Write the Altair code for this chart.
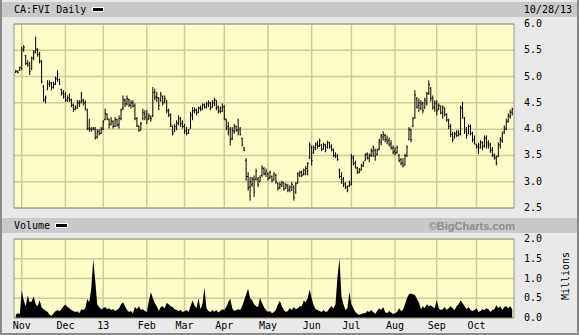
import altair as alt
import pandas as pd

# ---------------- data (trading-day index, Oct 29 2012 = -3, Nov 1 2012 = 0) ----------------
first_index = -3

highs = [
    5.13, 5.12, 5.19, 5.57, 5.60, 5.41, 5.31, 5.28, 5.38, 5.50,
    5.76, 5.54, 5.47, 5.31, 4.84, 4.64, 4.93, 4.93, 4.90, 4.90,
    5.00, 5.12, 4.96, 4.77, 4.74, 4.71, 4.64, 4.68, 4.58, 4.49,
    4.45, 4.55, 4.55, 4.71, 4.58, 4.55, 4.39, 4.20, 4.04, 4.04,
    4.04, 4.00, 4.00, 4.04, 4.17, 4.39, 4.30, 4.20, 4.23, 4.17,
    4.23, 4.20, 4.26, 4.39, 4.64, 4.58, 4.64, 4.58, 4.55, 4.55,
    4.49, 4.23, 4.07, 4.14, 4.39, 4.36, 4.36, 4.30, 4.26, 4.80,
    4.77, 4.71, 4.61, 4.71, 4.64, 4.64, 4.55, 4.39, 4.30, 4.07,
    4.10, 4.17, 4.26, 4.23, 4.17, 4.10, 4.04, 4.00, 4.33, 4.42,
    4.41, 4.39, 4.43, 4.45, 4.49, 4.49, 4.52, 4.55, 4.52, 4.55,
    4.60, 4.55, 4.45, 4.43, 4.49, 4.45, 4.20, 4.14, 4.04, 4.04,
    4.10, 4.07, 4.20, 4.04, 3.84, 3.66, 3.45, 3.18, 3.09, 3.09,
    3.12, 3.25, 3.09, 3.12, 3.31, 3.28, 3.25, 3.18, 3.21, 3.12,
    3.18, 3.15, 2.99, 2.99, 3.02, 2.99, 2.97, 2.96, 2.93, 2.99,
    2.93, 2.99, 3.18, 3.21, 3.21, 3.25, 3.30, 3.37, 3.75, 3.69,
    3.69, 3.75, 3.78, 3.82, 3.72, 3.74, 3.72, 3.78, 3.75, 3.71,
    3.63, 3.56, 3.53, 3.25, 3.18, 3.09, 2.99, 2.93, 3.02, 3.53,
    3.50, 3.40, 3.28, 3.26, 3.34, 3.39, 3.54, 3.56, 3.54, 3.63,
    3.69, 3.63, 3.63, 3.82, 3.91, 3.96, 3.91, 3.88, 3.84, 3.79,
    3.69, 3.66, 3.69, 3.53, 3.45, 3.45, 3.53, 3.69, 4.04, 4.01,
    4.23, 4.74, 4.61, 4.58, 4.55, 4.52, 4.60, 4.71, 4.93, 4.80,
    4.64, 4.55, 4.55, 4.49, 4.45, 4.45, 4.41, 4.30, 4.20, 4.10,
    3.95, 3.95, 3.98, 3.98, 4.45, 4.52, 4.23, 4.04, 4.09, 4.09,
    3.95, 3.88, 3.72, 3.74, 3.79, 3.77, 3.88, 3.88, 3.79, 3.74,
    3.66, 3.54, 3.50, 3.75, 3.85, 3.95, 4.07, 4.20, 4.30, 4.37, 4.41,
]

lows = [
    5.07, 5.06, 5.11, 5.12, 5.47, 5.22, 5.19, 5.03, 5.12, 5.31,
    5.44, 5.38, 5.25, 4.87, 4.52, 4.49, 4.74, 4.80, 4.74, 4.77,
    4.84, 4.90, 4.84, 4.64, 4.58, 4.52, 4.52, 4.52, 4.42, 4.33,
    4.36, 4.39, 4.42, 4.49, 4.45, 4.36, 3.98, 3.95, 3.95, 3.98,
    3.80, 3.82, 3.88, 3.91, 3.98, 4.17, 4.17, 4.01, 4.07, 4.01,
    4.04, 4.04, 4.01, 4.17, 4.36, 4.42, 4.45, 4.42, 4.39, 4.41,
    4.17, 4.04, 3.95, 3.98, 4.17, 4.17, 4.10, 4.17, 4.14, 4.23,
    4.55, 4.52, 4.36, 4.52, 4.45, 4.49, 4.30, 4.23, 4.04, 3.88,
    3.95, 3.98, 4.07, 4.04, 4.01, 3.91, 3.88, 3.91, 4.01, 4.17,
    4.30, 4.26, 4.31, 4.34, 4.36, 4.39, 4.39, 4.42, 4.36, 4.41,
    4.44, 4.36, 4.30, 4.30, 4.33, 4.17, 3.98, 3.88, 3.69, 3.79,
    3.91, 3.95, 3.88, 3.88, 3.67, 3.58, 3.02, 2.83, 2.64, 2.90,
    2.71, 3.02, 2.90, 2.99, 3.09, 3.12, 3.09, 3.02, 3.05, 2.99,
    3.02, 2.96, 2.83, 2.86, 2.90, 2.83, 2.86, 2.80, 2.80, 2.83,
    2.64, 2.77, 2.96, 3.09, 3.09, 3.12, 3.12, 3.12, 3.43, 3.31,
    3.53, 3.60, 3.63, 3.66, 3.58, 3.61, 3.56, 3.63, 3.63, 3.58,
    3.47, 3.45, 3.40, 3.06, 2.96, 2.90, 2.86, 2.80, 2.90, 2.93,
    3.31, 3.25, 3.15, 3.16, 3.21, 3.28, 3.40, 3.42, 3.37, 3.47,
    3.47, 3.40, 3.50, 3.60, 3.69, 3.78, 3.75, 3.71, 3.67, 3.61,
    3.52, 3.50, 3.53, 3.37, 3.31, 3.27, 3.31, 3.47, 3.79, 3.75,
    4.04, 4.20, 4.39, 4.33, 4.36, 4.30, 4.39, 4.45, 4.65, 4.52,
    4.37, 4.33, 4.26, 4.36, 4.28, 4.20, 4.24, 4.14, 4.00, 3.85,
    3.75, 3.82, 3.85, 3.86, 3.88, 4.20, 3.91, 3.82, 3.90, 3.88,
    3.75, 3.71, 3.63, 3.53, 3.63, 3.60, 3.65, 3.63, 3.63, 3.55,
    3.47, 3.42, 3.31, 3.47, 3.63, 3.74, 3.91, 3.98, 4.12, 4.20, 4.26,
]

opens = [
    5.08, 5.10, 5.12, 5.15, 5.50, 5.40, 5.25, 5.25, 5.15, 5.35,
    5.48, 5.50, 5.42, 5.28, 4.80, 4.55, 4.76, 4.85, 4.88, 4.80,
    4.86, 4.95, 4.94, 4.75, 4.70, 4.66, 4.55, 4.58, 4.56, 4.46,
    4.38, 4.40, 4.50, 4.52, 4.55, 4.50, 4.36, 4.02, 4.00, 4.00,
    4.00, 3.85, 3.95, 3.92, 4.00, 4.18, 4.28, 4.18, 4.10, 4.14,
    4.06, 4.18, 4.08, 4.20, 4.40, 4.55, 4.48, 4.56, 4.45, 4.50,
    4.45, 4.20, 4.05, 3.98, 4.20, 4.30, 4.25, 4.20, 4.22, 4.25,
    4.70, 4.62, 4.58, 4.55, 4.62, 4.52, 4.55, 4.35, 4.26, 4.05,
    3.95, 4.05, 4.10, 4.20, 4.12, 4.05, 3.98, 3.92, 4.02, 4.25,
    4.35, 4.36, 4.32, 4.40, 4.38, 4.46, 4.42, 4.48, 4.50, 4.42,
    4.50, 4.55, 4.42, 4.35, 4.34, 4.42, 4.18, 4.05, 4.00, 3.82,
    3.96, 4.05, 3.98, 4.00, 3.82, 3.64, 3.40, 3.10, 2.90, 2.95,
    3.05, 3.05, 3.05, 3.00, 3.12, 3.25, 3.15, 3.15, 3.08, 3.10,
    3.04, 3.12, 2.96, 2.88, 2.92, 2.98, 2.88, 2.92, 2.86, 2.84,
    2.90, 2.80, 2.98, 3.12, 3.18, 3.14, 3.15, 3.20, 3.45, 3.65,
    3.55, 3.62, 3.70, 3.68, 3.70, 3.62, 3.70, 3.65, 3.74, 3.68,
    3.60, 3.50, 3.50, 3.22, 3.10, 3.05, 2.96, 2.90, 2.92, 2.95,
    3.45, 3.35, 3.26, 3.18, 3.22, 3.30, 3.40, 3.52, 3.45, 3.50,
    3.58, 3.60, 3.52, 3.62, 3.75, 3.85, 3.88, 3.80, 3.78, 3.72,
    3.64, 3.58, 3.55, 3.50, 3.42, 3.35, 3.32, 3.50, 3.80, 3.98,
    4.06, 4.22, 4.58, 4.45, 4.40, 4.50, 4.40, 4.50, 4.68, 4.78,
    4.60, 4.40, 4.48, 4.38, 4.44, 4.30, 4.40, 4.28, 4.16, 4.05,
    3.90, 3.85, 3.90, 3.94, 3.90, 4.40, 4.20, 4.00, 3.92, 4.05,
    3.92, 3.80, 3.70, 3.68, 3.65, 3.75, 3.68, 3.82, 3.74, 3.70,
    3.60, 3.50, 3.45, 3.48, 3.70, 3.78, 3.95, 4.00, 4.15, 4.25, 4.32,
]

closes = [
    5.10, 5.08, 5.17, 5.52, 5.55, 5.25, 5.22, 5.10, 5.35, 5.45,
    5.52, 5.42, 5.30, 4.90, 4.56, 4.60, 4.88, 4.86, 4.80, 4.85,
    4.96, 5.05, 4.86, 4.68, 4.62, 4.56, 4.60, 4.55, 4.45, 4.38,
    4.42, 4.50, 4.48, 4.65, 4.50, 4.40, 4.02, 4.00, 3.98, 4.02,
    3.84, 3.95, 3.92, 4.00, 4.15, 4.30, 4.20, 4.08, 4.15, 4.05,
    4.18, 4.08, 4.20, 4.36, 4.56, 4.48, 4.58, 4.46, 4.50, 4.44,
    4.20, 4.06, 3.98, 4.10, 4.32, 4.22, 4.18, 4.25, 4.20, 4.70,
    4.60, 4.60, 4.45, 4.65, 4.50, 4.58, 4.35, 4.28, 4.08, 3.92,
    4.05, 4.12, 4.20, 4.10, 4.05, 3.95, 3.92, 3.98, 4.28, 4.35,
    4.36, 4.30, 4.40, 4.38, 4.46, 4.42, 4.48, 4.50, 4.40, 4.50,
    4.56, 4.40, 4.34, 4.40, 4.44, 4.20, 4.02, 3.95, 3.80, 3.98,
    4.05, 3.98, 3.95, 3.90, 3.70, 3.60, 3.10, 2.88, 3.00, 3.05,
    2.80, 3.20, 2.95, 3.08, 3.26, 3.15, 3.20, 3.05, 3.18, 3.02,
    3.15, 3.00, 2.88, 2.95, 2.98, 2.86, 2.94, 2.84, 2.90, 2.95,
    2.70, 2.96, 3.15, 3.18, 3.12, 3.22, 3.25, 3.35, 3.70, 3.40,
    3.65, 3.72, 3.68, 3.78, 3.62, 3.70, 3.60, 3.75, 3.66, 3.62,
    3.50, 3.48, 3.42, 3.10, 3.00, 2.94, 2.90, 2.84, 2.98, 3.48,
    3.35, 3.28, 3.18, 3.24, 3.32, 3.36, 3.52, 3.45, 3.50, 3.60,
    3.65, 3.48, 3.60, 3.78, 3.88, 3.90, 3.80, 3.76, 3.70, 3.65,
    3.56, 3.55, 3.65, 3.40, 3.35, 3.30, 3.50, 3.66, 4.00, 3.80,
    4.20, 4.65, 4.42, 4.50, 4.48, 4.35, 4.55, 4.68, 4.85, 4.58,
    4.42, 4.50, 4.35, 4.45, 4.32, 4.42, 4.28, 4.18, 4.05, 3.90,
    3.80, 3.92, 3.88, 3.92, 4.40, 4.25, 3.95, 3.88, 4.05, 3.92,
    3.80, 3.74, 3.66, 3.70, 3.74, 3.66, 3.84, 3.70, 3.72, 3.60,
    3.50, 3.46, 3.36, 3.70, 3.80, 3.92, 4.02, 4.15, 4.25, 4.32, 4.38,
]

volumes = [  # millions of shares
    0.08, 0.12, 0.10, 0.70, 0.45, 0.30, 0.57, 0.40, 0.42, 0.55,
    0.35, 0.30, 0.45, 0.27, 0.22, 0.19, 0.15, 0.08, 0.06, 0.12,
    0.17, 0.20, 0.17, 0.22, 0.30, 0.34, 0.28, 0.25, 0.20, 0.18,
    0.15, 0.17, 0.12, 0.22, 0.20, 0.25, 0.48, 0.40, 0.75, 1.49,
    0.95, 0.35, 0.27, 0.22, 0.25, 0.28, 0.22, 0.25, 0.20, 0.23,
    0.18, 0.20, 0.25, 0.35, 0.40, 0.30, 0.20, 0.15, 0.18, 0.12,
    0.28, 0.22, 0.30, 0.20, 0.22, 0.18, 0.15, 0.42, 0.66, 0.50,
    0.38, 0.30, 0.18, 0.28, 0.30, 0.25, 0.38, 0.35, 0.30, 0.28,
    0.22, 0.20, 0.18, 0.20, 0.15, 0.17, 0.20, 0.15, 0.30, 0.44,
    0.32, 0.25, 0.50, 0.22, 0.35, 0.77, 0.25, 0.18, 0.15, 0.20,
    0.16, 0.20, 0.14, 0.18, 0.22, 0.20, 0.28, 0.40, 0.49, 0.25,
    0.18, 0.20, 0.22, 0.20, 0.30, 0.45, 0.60, 0.74, 0.50, 0.45,
    0.35, 0.30, 0.28, 0.51, 0.38, 0.27, 0.20, 0.15, 0.18, 0.12,
    0.15, 0.20, 0.35, 0.43, 0.30, 0.20, 0.15, 0.18, 0.25, 0.20,
    0.28, 0.22, 0.25, 0.30, 0.30, 0.44, 0.40, 0.50, 0.72, 0.50,
    0.32, 0.22, 0.20, 0.18, 0.15, 0.20, 0.15, 0.17, 0.25, 0.30,
    0.25, 0.35, 1.04, 1.51, 0.55, 0.35, 0.20, 0.25, 0.66, 0.35,
    0.25, 0.15, 0.10, 0.08, 0.10, 0.12, 0.12, 0.18, 0.15, 0.20,
    0.15, 0.10, 0.18, 0.25, 0.20, 0.28, 0.15, 0.12, 0.18, 0.14,
    0.10, 0.12, 0.15, 0.25, 0.18, 0.20, 0.35, 0.50, 0.60, 0.62,
    0.60, 0.58, 0.48, 0.40, 0.22, 0.30, 0.25, 0.35, 0.30, 0.32,
    0.28, 0.25, 0.46, 0.25, 0.20, 0.22, 0.28, 0.20, 0.25, 0.30,
    0.25, 0.20, 0.30, 0.35, 0.44, 0.38, 0.30, 0.22, 0.28, 0.20,
    0.18, 0.20, 0.25, 0.15, 0.18, 0.22, 0.20, 0.25, 0.22, 0.15,
    0.20, 0.22, 0.32, 0.25, 0.30, 0.20, 0.28, 0.30, 0.25, 0.30, 0.22,
]

month_index = [0, 22, 41, 63, 82, 102, 124, 146, 166, 188, 209, 229]
month_labels = ["Nov", "Dec", "13", "Feb", "Mar", "Apr", "May", "Jun", "Jul", "Aug", "Sep", "Oct"]

price_ticks = [2.5, 3.0, 3.5, 4.0, 4.5, 5.0, 5.5, 6.0]
price_tick_labels = ["2.5", "3.0", "3.5", "4.0", "4.5", "5.0", "5.5", "6.0"]
volume_ticks = [0.0, 0.5, 1.0, 1.5, 2.0]
volume_tick_labels = ["0.0", "0.5", "1.0", "1.5", "2.0"]

symbol_title = "CA:FVI Daily"
date_label = "10/28/13"

# ---------------- frames ----------------
n = len(highs)
df = pd.DataFrame({
    "i": list(range(first_index, first_index + n)),
    "high": highs, "low": lows, "open": opens, "close": closes, "vol": volumes,
})
df["io"] = df["i"] - 0.5
df["ic"] = df["i"] + 0.5

months = pd.DataFrame({"i": month_index, "label": month_labels})
pticks = pd.DataFrame({"v": price_ticks, "label": price_tick_labels})
vticks = pd.DataFrame({"v": volume_ticks, "label": volume_tick_labels})
one = pd.DataFrame({"k": [0]})

# ---------------- scales (pixel ranges of the two panels) ----------------
PX0, PX1 = 14, 514
XS = alt.Scale(domain=[-3.9, 247.9], range=[PX0, PX1], nice=False, zero=False)
PS = alt.Scale(domain=[2.5, 6.0], range=[208, 24], nice=False, zero=False)
VS = alt.Scale(domain=[0, 2], range=[318, 239], nice=False, zero=False)

MONO = "DejaVu Sans Mono"
PLOT_BG = "#fdfdca"
GRID = "#cccc99"
BORDER = "#9a9a9a"
HEADER = "#c9c9c9"


def rect(x1, x2, y1, y2, color):
    return alt.Chart(one).mark_rect(color=color).encode(
        x=alt.value(x1), x2=alt.value(x2), y=alt.value(y1), y2=alt.value(y2))


def frame(x1, x2, y1, y2, color):
    return alt.Chart(one).mark_rect(fillOpacity=0, stroke=color, strokeWidth=1).encode(
        x=alt.value(x1), x2=alt.value(x2), y=alt.value(y1), y2=alt.value(y2))


def hline(x1, x2, y, color, w=1):
    return alt.Chart(one).mark_rule(color=color, strokeWidth=w).encode(
        x=alt.value(x1), x2=alt.value(x2), y=alt.value(y))


def vline(x, y1, y2, color, w=1):
    return alt.Chart(one).mark_rule(color=color, strokeWidth=w).encode(
        x=alt.value(x), y=alt.value(y1), y2=alt.value(y2))


def label(text, x, y, align="left", font=MONO, size=10, color="black", weight="normal", angle=0,
          baseline="alphabetic"):
    return alt.Chart(one).mark_text(
        text=text, font=font, fontSize=size, color=color, fontWeight=weight, align=align,
        baseline=baseline, angle=angle).encode(x=alt.value(x), y=alt.value(y))


layers = []

# header bands
layers.append(rect(2, 579, 2, 17, HEADER))
layers.append(rect(2, 579, 218, 233, HEADER))

# plot backgrounds
layers.append(rect(PX0, PX1, 24, 208, PLOT_BG))
layers.append(rect(PX0, PX1, 239, 318, PLOT_BG))

# grid: vertical month lines
for y1, y2 in [(24, 208), (239, 318)]:
    layers.append(alt.Chart(months).mark_rule(color=GRID, strokeWidth=1.5).encode(
        x=alt.X("i:Q", scale=XS, axis=None), y=alt.value(y1), y2=alt.value(y2)))

# grid: horizontal
layers.append(alt.Chart(pticks).mark_rule(color=GRID, strokeWidth=1.5).encode(
    y=alt.Y("v:Q", scale=PS, axis=None), x=alt.value(PX0), x2=alt.value(PX1)))
layers.append(alt.Chart(vticks).mark_rule(color=GRID, strokeWidth=1.5).encode(
    y=alt.Y("v:Q", scale=VS, axis=None), x=alt.value(PX0), x2=alt.value(PX1)))

# OHLC bars
layers.append(alt.Chart(df).mark_rule(color="black", strokeWidth=1).encode(
    x=alt.X("i:Q", scale=XS, axis=None),
    y=alt.Y("low:Q", scale=PS, axis=None), y2="high:Q"))
layers.append(alt.Chart(df).mark_rule(color="black", strokeWidth=1).encode(
    x=alt.X("io:Q", scale=XS, axis=None), x2="i:Q",
    y=alt.Y("open:Q", scale=PS, axis=None)))
layers.append(alt.Chart(df).mark_rule(color="black", strokeWidth=1).encode(
    x=alt.X("i:Q", scale=XS, axis=None), x2="ic:Q",
    y=alt.Y("close:Q", scale=PS, axis=None)))

# volume
layers.append(alt.Chart(df).mark_area(color="black", interpolate="linear").encode(
    x=alt.X("i:Q", scale=XS, axis=None),
    y=alt.Y("vol:Q", scale=VS, axis=None), y2=alt.datum(0)))

# plot borders
layers.append(frame(PX0, PX1, 24, 208, BORDER))
layers.append(frame(PX0, PX1, 239, 318, BORDER))

# outer frame
layers.append(vline(1, 0, 335, "#8a8a8a", 2))
layers.append(vline(578, 0, 335, "#8a8a8a", 2))
layers.append(hline(0, 579, 334, "#8a8a8a", 2))

# axis labels
layers.append(alt.Chart(pticks).mark_text(font=MONO, fontSize=10, align="left", baseline="middle",
                                          color="black").encode(
    y=alt.Y("v:Q", scale=PS, axis=None), x=alt.value(524), text="label:N"))
layers.append(alt.Chart(vticks).mark_text(font=MONO, fontSize=10, align="left", baseline="middle",
                                          color="black").encode(
    y=alt.Y("v:Q", scale=VS, axis=None), x=alt.value(524), text="label:N"))
layers.append(alt.Chart(months).mark_text(font=MONO, fontSize=10, align="center", baseline="middle",
                                          color="black").encode(
    x=alt.X("i:Q", scale=XS, axis=None), y=alt.value(326), text="label:N"))

# header texts and swatches
layers.append(label(symbol_title, 14, 13))
layers.append(rect(92, 104, 7, 12, "white"))
layers.append(rect(93, 103, 8, 11, "black"))
layers.append(label(date_label, 572, 13, align="right"))
layers.append(label("Volume", 14, 229))
layers.append(rect(55, 68, 223, 228, "white"))
layers.append(rect(56, 67, 224, 227, "black"))
layers.append(label("\u00a9BigCharts.com", 515, 230, align="right", font="Liberation Sans",
                    size=11, color="#8c8c8c", weight="bold"))
layers.append(label("Millions", 566, 276, align="center", baseline="middle", angle=270))

chart = alt.layer(*layers).resolve_scale(y="independent").properties(
    width=579, height=335,
    autosize=alt.AutoSizeParams(type="none"),
    padding=0,
    background="#e9e9e9",
).configure_view(strokeWidth=0)

chart.save("out.html", embed_options={"renderer": "svg", "actions": False})
